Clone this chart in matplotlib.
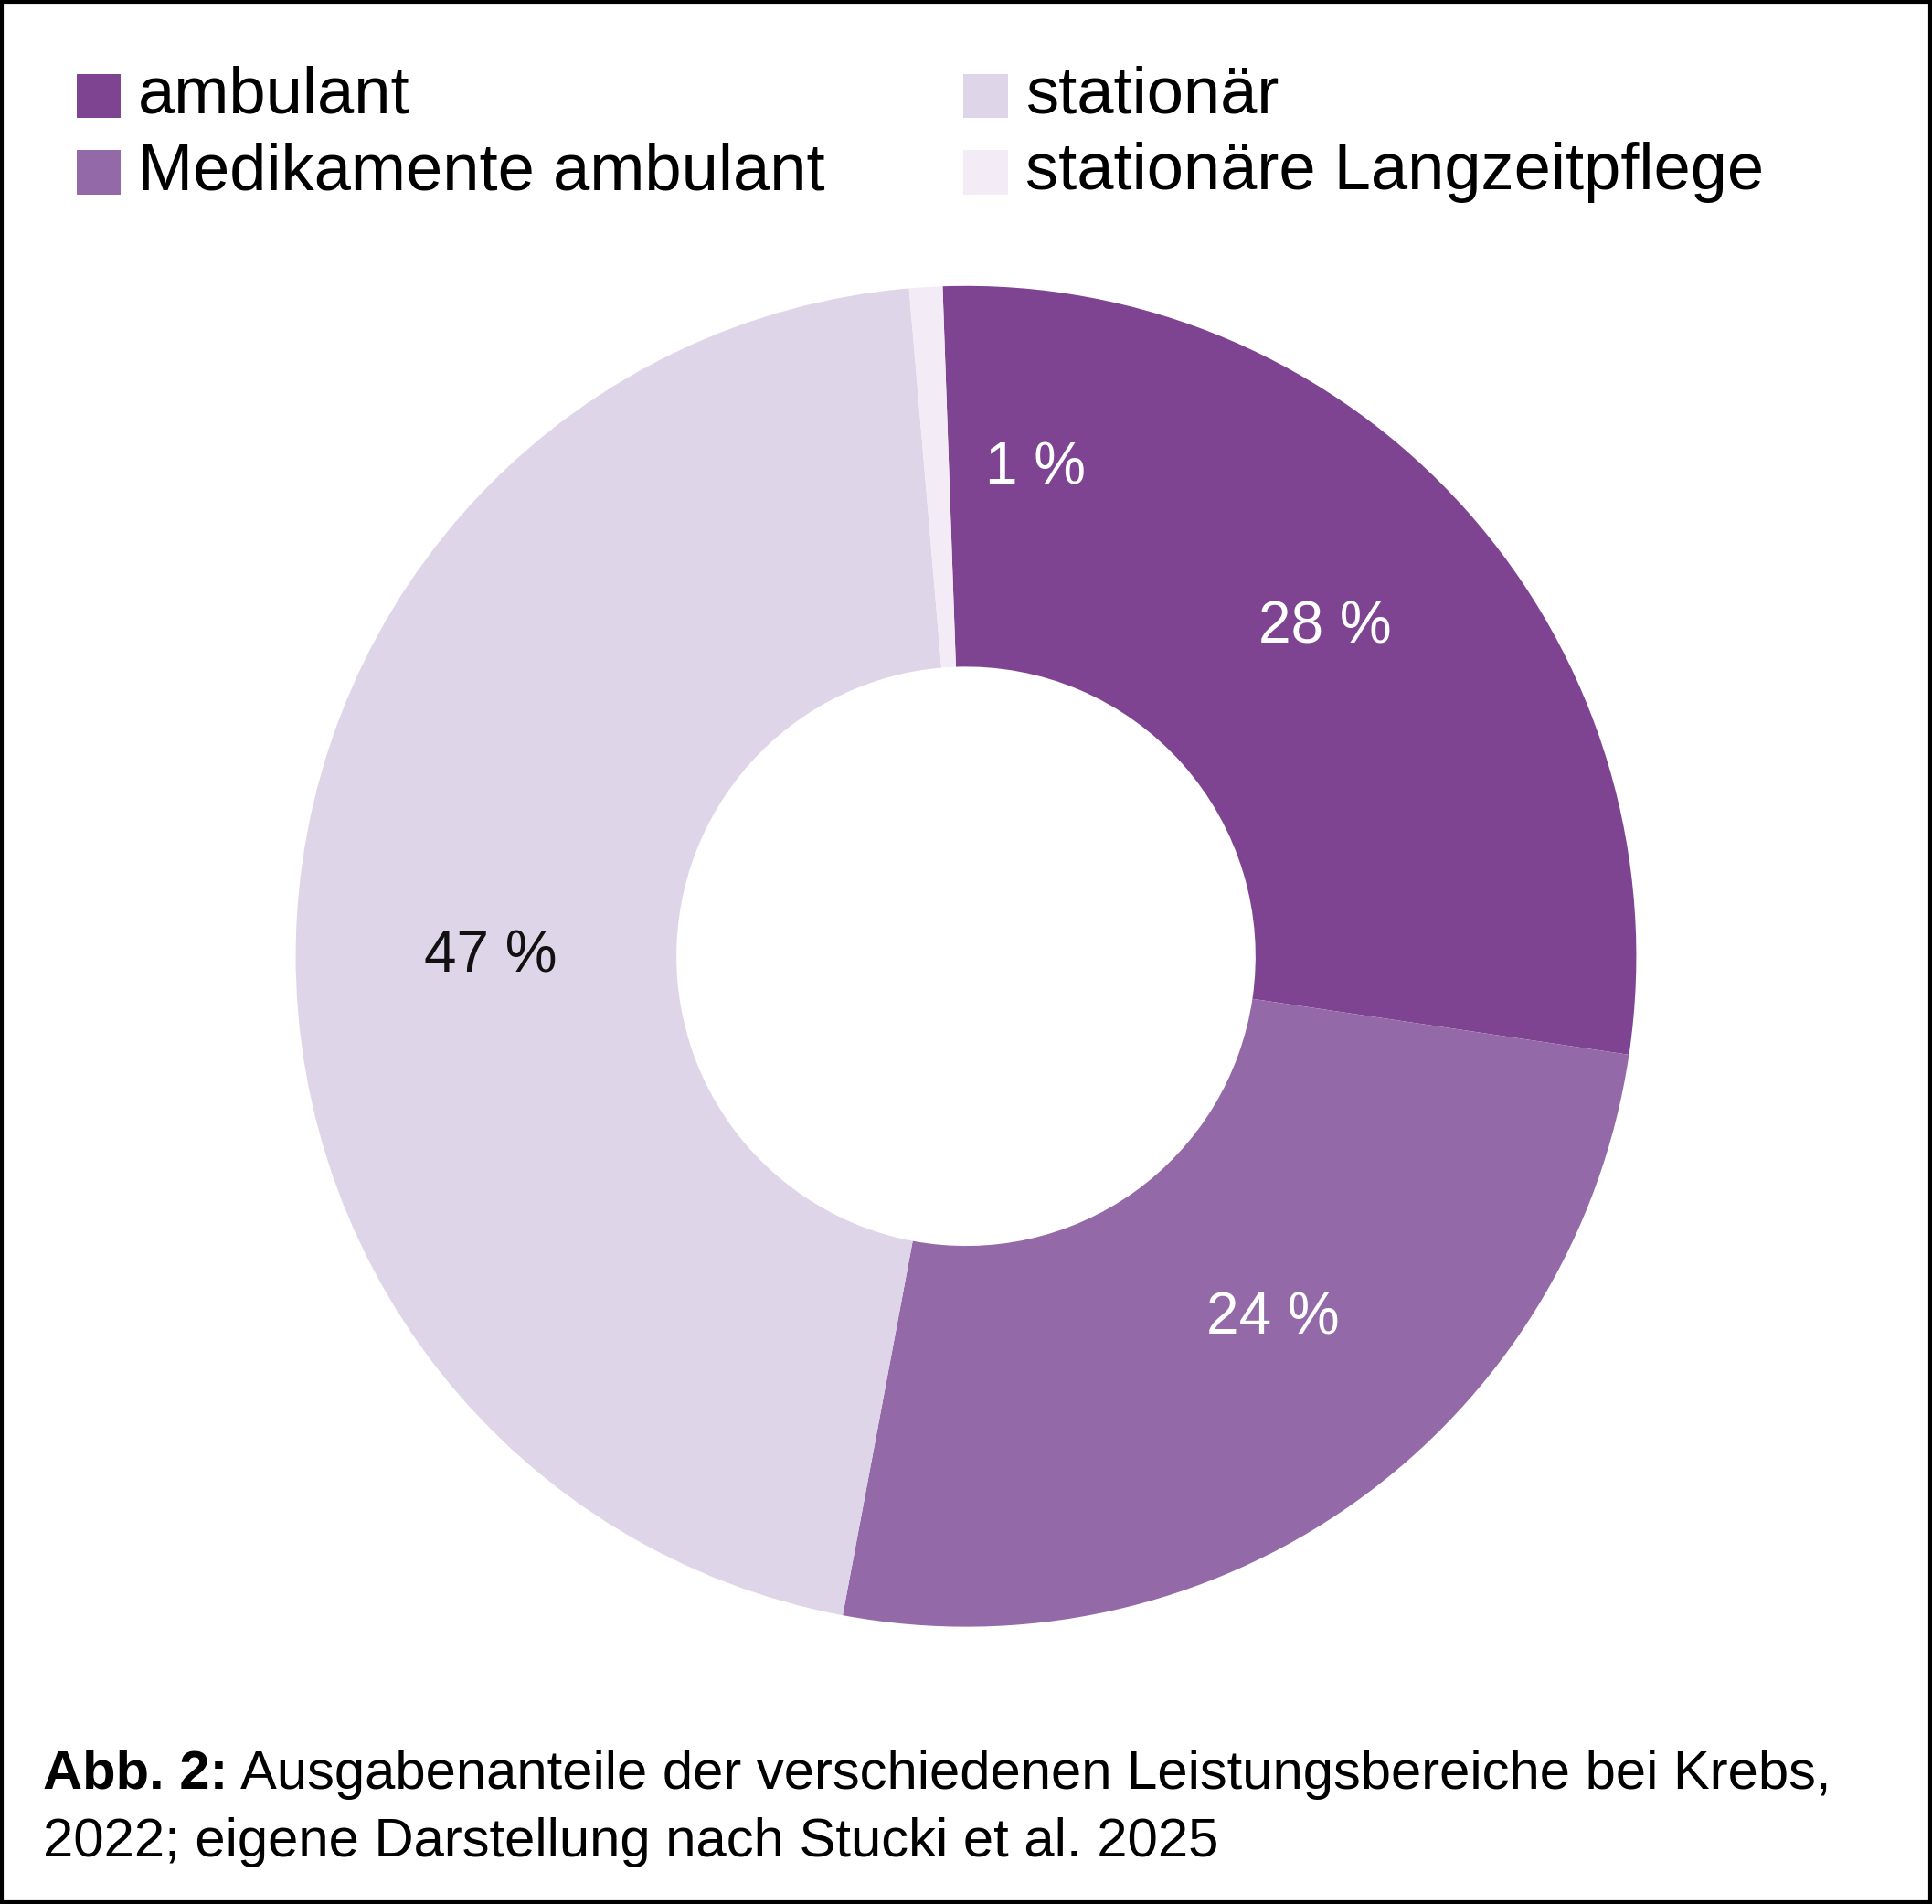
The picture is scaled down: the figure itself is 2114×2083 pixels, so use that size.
import matplotlib
matplotlib.use("Agg")
import matplotlib.pyplot as plt
from matplotlib.patches import Rectangle

plt.rcParams['font.family'] = ['Liberation Sans', 'DejaVu Sans']

labels = ["ambulant", "Medikamente ambulant", "stationär", "stationäre Langzeitpflege"]
shares = [27.9, 25.6, 45.7, 0.8]          # angular shares
pct_labels = ["28 %", "24 %", "47 %", "1 %"]
colors = ["#7f4491", "#9369a8", "#dfd5e9", "#f3ebf5"]
text_colors = ["white", "white", "#111111", "white"]

W, H = 1568, 1545  # reference layout units
fig = plt.figure(figsize=(21.14, 20.83), dpi=100)
fig.patches.append(Rectangle((0.001, 0.001), 0.998, 0.998, transform=fig.transFigure,
                             fill=False, edgecolor="black", linewidth=3))

ax = fig.add_axes([(784 - 544) / W, (H - 1320) / H, 1088 / W, 1088 / H])
wedges, _ = ax.pie(shares, colors=colors, startangle=92, counterclock=False,
                   radius=1, wedgeprops=dict(width=0.568, linewidth=0))
label_pos = [(0.535, 0.49), (0.458, -0.54), (-0.71, 0.0), (0.103, 0.728)]
for txt, c, (x, y) in zip(pct_labels, text_colors, label_pos):
    ax.text(x, y, txt, color=c, fontsize=46, ha="center", va="center")
ax.set_xlim(-1, 1)
ax.set_ylim(-1, 1)
ax.set_aspect("equal")
ax.axis("off")

# legend
pos = [(62, 78), (62, 140), (782, 78), (782, 140)]
for lab, col, (x, y) in zip(labels, colors, pos):
    fig.patches.append(Rectangle((x / W, 1 - (y + 18) / H), 36 / W, 36 / H,
                                 transform=fig.transFigure, facecolor=col, edgecolor="none"))
    fig.text((x + 50) / W, 1 - y / H, lab, fontsize=52, va="center", ha="left")

# caption
t1 = fig.text(35 / W, 1 - 1440 / H, "Abb. 2:", fontsize=43, fontweight="bold", va="center")
fig.canvas.draw()
bb = t1.get_window_extent().transformed(fig.transFigure.inverted())
fig.text(bb.x1 + 10 / W, 1 - 1440 / H,
         "Ausgabenanteile der verschiedenen Leistungsbereiche bei Krebs,",
         fontsize=43, va="center")
fig.text(35 / W, 1 - 1495 / H, "2022; eigene Darstellung nach Stucki et al. 2025",
         fontsize=43, va="center")

fig.savefig("out.png", dpi=100)
